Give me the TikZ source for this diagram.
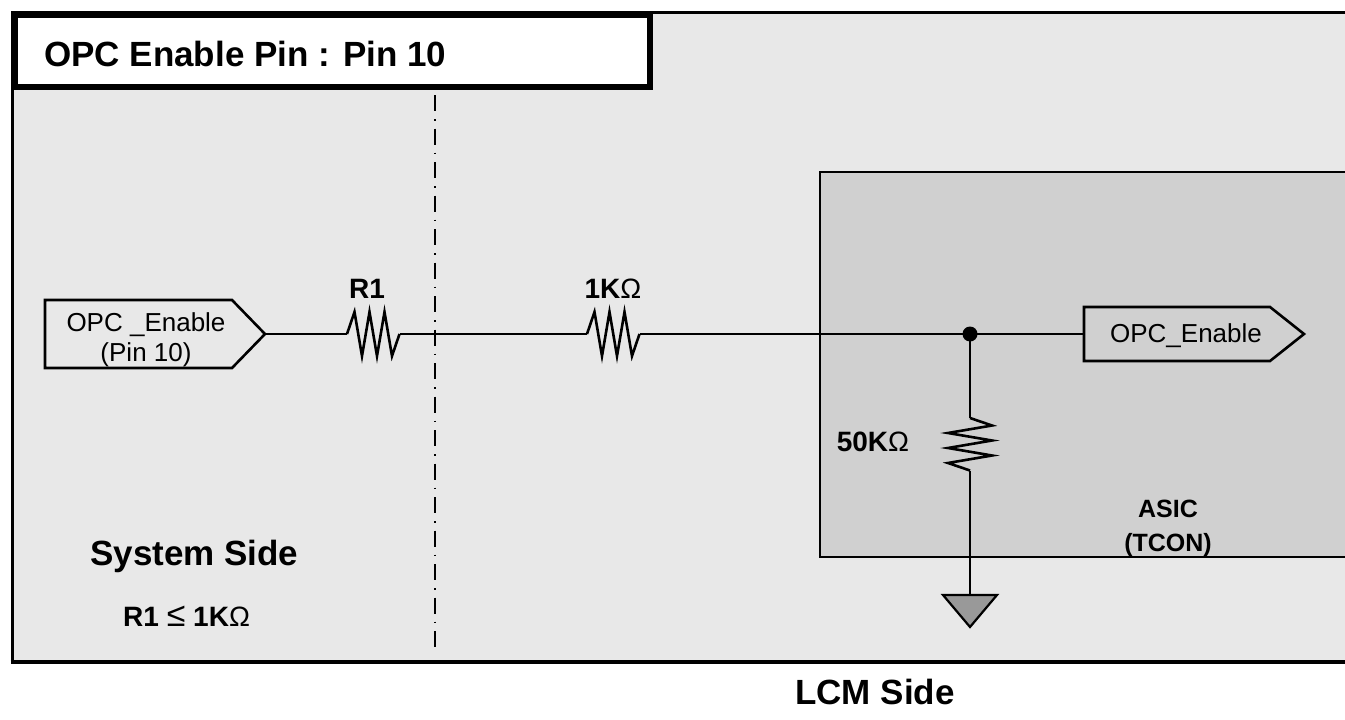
\documentclass[tikz,border=0pt]{standalone}
\usepackage{fontspec}
\setmainfont{Liberation Sans}
\definecolor{bgframe}{HTML}{E8E8E8}
\definecolor{asicfill}{HTML}{D0D0D0}
\definecolor{gndfill}{HTML}{999999}
\newcommand\myfs[1]{\fontsize{#1}{#1}\selectfont}
\begin{document}
\begin{tikzpicture}[x=1pt,y=-1pt,
  wire/.style={line width=2.6pt},
  outline/.style={draw=black, line width=2.6pt, line join=miter},
  lbl/.style={inner sep=0pt, font=\myfs{28}\bfseries},
  biglbl/.style={inner sep=0pt, anchor=west, font=\myfs{35}\bfseries},
  portlbl/.style={inner sep=0pt, align=center, font=\fontsize{26}{30}\selectfont},
  resH/.pic={
    \draw[wire] (0,0) -- ++(7.5,-22) -- ++(7.5,44) -- ++(7.5,-44) -- ++(7.5,44)
      -- ++(7.5,-44) -- ++(7.5,44) -- ++(7.5,-22);
    \coordinate (-a) at (0,0); \coordinate (-b) at (52.5,0);},
  resV/.pic={
    \draw[wire] (0,0) -- ++(22,7.5) -- ++(-44,7.5) -- ++(44,7.5) -- ++(-44,7.5)
      -- ++(44,7.5) -- ++(-44,7.5) -- ++(22,7.5);
    \coordinate (-a) at (0,0); \coordinate (-b) at (0,52.5);},
]
\useasboundingbox (0,0) rectangle (1345,720);
% frame
\fill[bgframe] (12,12) rectangle (1360,662);
\draw[line width=3pt] (1360,12) -- (12,12) -- (12,662);
\draw[line width=4pt] (10.5,662) -- (1360,662);
% title
\draw[line width=6.5pt, fill=white] (15,15) rectangle (650,87);
\node[biglbl] (title) at (44,54) {OPC Enable Pin : Pin 10};
% divider
\coordinate (dtop) at (435,95);
\coordinate (dbot) at (435,648);
\draw[line width=1.5pt, dash pattern=on 16pt off 8pt on 1.5pt off 8pt] (dtop) -- (dbot);
% ASIC block
\draw[fill=asicfill, line width=2.6pt] (1360,172) -- (820,172) -- (820,557) -- (1360,557);
\node[inner sep=0pt, align=center, font=\fontsize{25}{34}\selectfont\bfseries] (asic) at (1168,528) {ASIC\\(TCON)};
% input port
\draw[outline] (45,300) -- (232,300) -- (265,334) -- (232,368) -- (45,368) -- cycle;
\coordinate (intip) at (265,334);
\node[portlbl] (inlbl) at (146,340) {OPC \_Enable\\(Pin 10)};
% output port
\draw[outline] (1084,307) -- (1270,307) -- (1304,334) -- (1270,361) -- (1084,361) -- cycle;
\coordinate (outw) at (1084,334);
\node[portlbl] (outlbl) at (1186,336) {OPC\_Enable};
% resistors
\pic (r1) at (347,334) {resH};
\pic (r2) at (587,334) {resH};
\pic (r3) at (970,418) {resV};
\node[lbl] (r1lbl) at (367,289) {R1};
\node[lbl] (r2lbl) at (613,289) {1K{\mdseries Ω}};
\node[lbl] (r3lbl) at (873,442) {50K{\mdseries Ω}};
% junction
\coordinate (jn) at (970,334);
\fill (jn) circle (7.5);
% ground
\coordinate (gnd) at (970,595);
\draw[fill=gndfill, line width=2.2pt, line join=miter] (943,595) -- (997,595) -- (970,627) -- cycle;
% wires
\draw[wire] (intip) -- (r1-a);
\draw[wire] (r1-b) -- (r2-a);
\draw[wire] (r2-b) -- (jn);
\draw[wire] (jn) -- (outw);
\draw[wire] (jn) -- (r3-a);
\draw[wire] (r3-b) -- (gnd);
% side labels
\node[biglbl] (sys) at (90,556) {System Side};
\node[lbl, anchor=west] (r1cond) at (123,616) {R1 {\mdseries\myfs{34}≤} 1K{\mdseries Ω}};
\node[biglbl] (lcm) at (795,692) {LCM Side};
\end{tikzpicture}
\end{document}
